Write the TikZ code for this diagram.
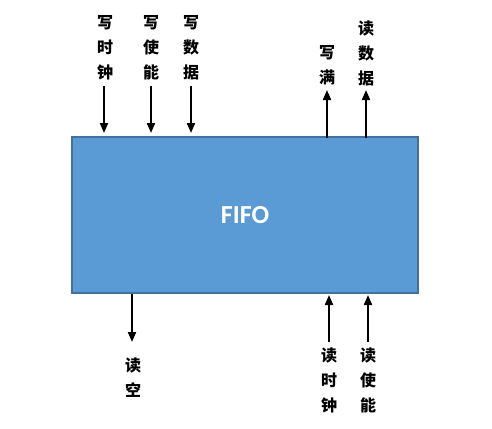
\documentclass[tikz,border=0pt]{standalone}
\usepackage{fontspec}
\setmainfont{Carlito}
\newfontfamily\cjk{Noto Sans CJK SC}
\usetikzlibrary{arrows.meta}
\definecolor{boxfill}{HTML}{5B9BD5}
\definecolor{boxdraw}{HTML}{41719C}
\begin{document}
\begin{tikzpicture}[x=1pt,y=-1pt,
  lbl/.style={font=\cjk\bfseries\fontsize{16}{25}\selectfont, align=center, inner sep=0pt},
  arr/.style={line width=2pt, -{Triangle[width=8pt,length=10pt]}},
  fifobox/.style={draw=boxdraw, fill=boxfill, line width=1.5pt, minimum width=346pt, minimum height=156pt, inner sep=0pt}]
\useasboundingbox (0,0) rectangle (492,428);
\node[fifobox] (fifo) at (245,215) {};
\node[font=\fontsize{26}{30}\selectfont\bfseries, text=white] (t) at (245,215) {FIFO};
% top inputs
\node[lbl] (l1) at (105,48) {写\\时\\钟};
\node[lbl] (l2) at (151,48) {写\\使\\能};
\node[lbl] (l3) at (191,48) {写\\数\\据};
\coordinate (s1) at (104,86);
\coordinate (s2) at (151,86);
\coordinate (s3) at (191,86);
\coordinate (e1) at (104,133);
\coordinate (e2) at (151,133);
\coordinate (e3) at (191,133);
\draw[arr] (s1) -- (e1);
\draw[arr] (s2) -- (e2);
\draw[arr] (s3) -- (e3);
% top outputs
\node[lbl] (l4) at (327,65) {写\\满};
\node[lbl] (l5) at (366,53) {读\\数\\据};
\coordinate (s4) at (327,138);
\coordinate (s5) at (366,138);
\coordinate (e4) at (327,90);
\coordinate (e5) at (366,90);
\draw[arr] (s4) -- (e4);
\draw[arr] (s5) -- (e5);
% bottom output
\coordinate (s6) at (132,294);
\coordinate (e6) at (132,342);
\draw[arr] (s6) -- (e6);
\node[lbl] (l6) at (133,378) {读\\空};
% bottom inputs
\coordinate (s7) at (329,342);
\coordinate (s8) at (368,342);
\coordinate (e7) at (329,295);
\coordinate (e8) at (368,295);
\draw[arr] (s7) -- (e7);
\draw[arr] (s8) -- (e8);
\node[lbl] (l7) at (329,380) {读\\时\\钟};
\node[lbl] (l8) at (368,380) {读\\使\\能};
\end{tikzpicture}
\end{document}
